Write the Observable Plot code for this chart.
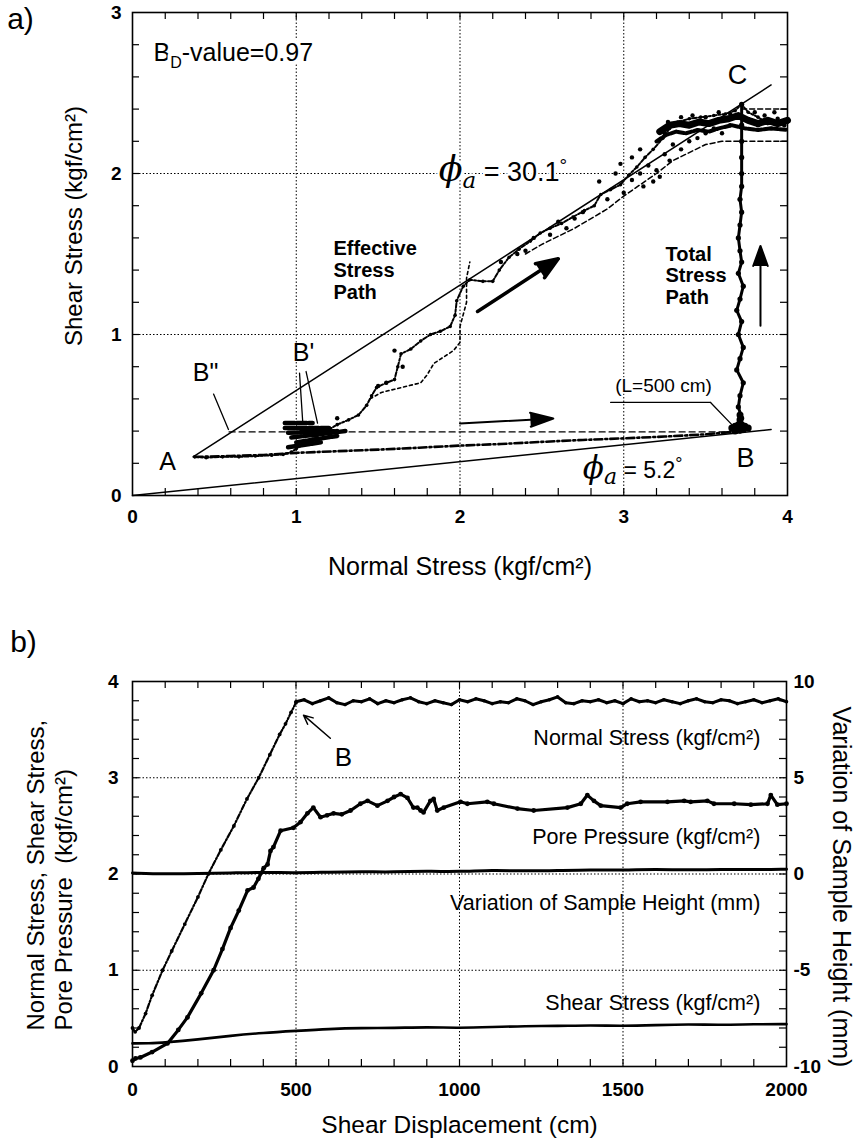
<!DOCTYPE html>
<html><head><meta charset="utf-8">
<script src="https://cdn.jsdelivr.net/npm/d3@7"></script>
<script src="https://cdn.jsdelivr.net/npm/@observablehq/plot@0.6"></script>
<style>
body{margin:0;background:#fff;}
#wrap{position:relative;width:856px;height:1139px;background:#fff;}
#wrap svg{position:absolute;left:0;overflow:visible;}
</style></head><body><div id="wrap"></div>
<script>
// ---------------- Panel a data (kgf/cm2) ----------------
const aXTicks = [0, 1, 2, 3, 4];
const aYTicks = [0, 1, 2, 3];
const aGridX = [1, 2, 3];
const aGridY = [1, 2];
const failureHigh = [[0.37, 0.24], [3.9, 2.55]];   // phi_a = 30.1
const failureLow = [[0, 0], [3.9, 0.41]];          // phi_a = 5.2
const dashedB2 = [[0.59, 0.395], [3.68, 0.395]];
const pathAB = [[0.38,0.24],[0.6,0.245],[0.8,0.252],[1.0,0.265],[1.25,0.275],[1.5,0.285],[1.75,0.297],[2.0,0.31],[2.25,0.32],[2.5,0.333],[2.75,0.345],[3.0,0.355],[3.25,0.366],[3.5,0.38],[3.72,0.40]];
const effPath = [[0.38,0.24],[0.45,0.235],[0.55,0.24],[0.65,0.24],[0.75,0.245],[0.85,0.25],[0.92,0.255],[0.97,0.27],[1.0,0.29],[1.05,0.32],[1.1,0.35],[1.15,0.38],[1.2,0.41],[1.25,0.44],[1.32,0.47],[1.38,0.50],[1.43,0.56],[1.46,0.62],[1.49,0.67],[1.55,0.70],[1.60,0.72],[1.62,0.80],[1.64,0.88],[1.70,0.91],[1.76,0.96],[1.82,1.00],[1.88,1.02],[1.94,1.05],[1.97,1.12],[1.98,1.21],[2.02,1.30],[2.06,1.34],[2.14,1.33],[2.2,1.33],[2.24,1.40],[2.3,1.48],[2.36,1.53],[2.43,1.58],[2.49,1.63],[2.55,1.66],[2.62,1.69],[2.69,1.73],[2.76,1.77],[2.82,1.80],[2.86,1.87],[2.92,1.90],[2.98,1.93],[3.03,1.99],[3.08,2.04],[3.13,2.10],[3.18,2.15],[3.24,2.22],[3.28,2.28],[3.33,2.32],[3.40,2.34],[3.47,2.35],[3.55,2.36],[3.62,2.37],[3.68,2.39],[3.72,2.43],[3.76,2.38],[3.82,2.35],[3.88,2.31],[3.95,2.32],[4.0,2.32]];
const effPath2 = [[1.45,0.60],[1.52,0.64],[1.60,0.66],[1.68,0.68],[1.76,0.70],[1.80,0.75],[1.84,0.82],[1.90,0.86],[1.96,0.90],[2.0,0.95],[2.0,1.05],[2.04,1.20],[2.04,1.35],[2.06,1.45]];
const effPath3 = [[2.4,1.50],[2.5,1.56],[2.6,1.61],[2.7,1.66],[2.8,1.72],[2.9,1.78],[3.0,1.86],[3.1,1.93],[3.2,2.0],[3.3,2.08],[3.4,2.13],[3.5,2.18],[3.6,2.20],[3.72,2.20],[4.0,2.20]];
const effPath4 = [[3.72,2.40],[3.85,2.40],[4.0,2.40]];
const plateau = [[3.22,2.26],[3.28,2.30],[3.34,2.31],[3.40,2.30],[3.46,2.32],[3.52,2.31],[3.58,2.33],[3.64,2.34],[3.70,2.36],[3.76,2.33],[3.82,2.31],[3.88,2.33],[3.94,2.31],[4.0,2.33]];
const plateau2 = [[3.20,2.20],[3.26,2.24],[3.32,2.26],[3.38,2.25],[3.45,2.27],[3.52,2.26],[3.58,2.28],[3.66,2.30],[3.74,2.28],[3.82,2.27],[3.90,2.28],[4.0,2.27]];
const effScatter = [[2.85,1.95],[2.90,1.84],[2.95,2.0],[3.0,1.88],[3.05,1.96],[3.1,2.0],[3.12,1.92],[3.15,2.05],[3.18,1.95],[3.2,2.02],[3.22,1.98],[3.25,2.12],[3.28,2.08],[3.1,2.15],[3.05,2.1],[2.98,2.06],[3.3,2.18],[3.35,2.15],[3.4,2.2],[3.45,2.22],[3.5,2.25],[3.55,2.28],[3.6,2.25],[3.65,2.3],[3.3,2.3],[3.35,2.35],[3.42,2.36],[3.5,2.35],[3.58,2.38],[3.65,2.37],[3.25,2.25],[3.27,2.32],[2.7,1.72],[2.75,1.76],[2.65,1.66],[2.6,1.7],[2.55,1.62],[2.45,1.6],[2.4,1.52],[2.35,1.5],[2.25,1.45],[3.78,2.33],[3.82,2.3],[3.86,2.36],[3.9,2.28],[3.94,2.34],[3.98,2.3],[3.8,2.38],[3.92,2.38],[1.6,0.9],[1.55,0.7],[1.50,0.68],[1.25,0.48],[1.65,0.80]];
const bPrimeCluster = [
  {s:1,x:0.93,y:0.45},{s:1,x:1.10,y:0.45},
  {s:2,x:0.93,y:0.42},{s:2,x:1.20,y:0.42},
  {s:3,x:0.95,y:0.39},{s:3,x:1.25,y:0.40},
  {s:4,x:0.97,y:0.36},{s:4,x:1.30,y:0.40},
  {s:5,x:1.00,y:0.33},{s:5,x:1.25,y:0.37},
  {s:6,x:0.95,y:0.30},{s:6,x:1.15,y:0.33}
];
const totalPath = [[3.71,0.40],[3.72,0.48],[3.70,0.55],[3.71,0.62],[3.73,0.70],[3.69,0.78],[3.71,0.85],[3.73,0.92],[3.70,1.0],[3.72,1.08],[3.69,1.15],[3.71,1.22],[3.73,1.30],[3.70,1.38],[3.72,1.45],[3.71,1.52],[3.70,1.6],[3.71,1.68],[3.72,1.76],[3.71,1.84],[3.72,1.92],[3.72,2.0],[3.72,2.1],[3.72,2.2],[3.72,2.3],[3.72,2.43]];
const bBlob = [[3.66,0.42],[3.68,0.43],[3.70,0.44],[3.72,0.44],[3.74,0.43],[3.76,0.42],[3.70,0.41],[3.73,0.41],[3.68,0.40],[3.71,0.47],[3.71,0.50]];
const arrowsThick = [{x1:2.107,y1:1.143,x2:2.60,y2:1.47}];
const arrowsRight = [{x1:2.0,y1:0.447,x2:2.57,y2:0.478}];
const arrowsUp = [{x1:3.835,y1:1.055,x2:3.835,y2:1.55}];
const arrowsThin = [
  {x1:0.495,y1:0.63,x2:0.586,y2:0.41,bend:8},
  {x1:1.02,y1:0.76,x2:1.04,y2:0.45,bend:0},
  {x1:1.06,y1:0.77,x2:1.13,y2:0.45,bend:0},
  {x1:3.53,y1:0.578,x2:3.66,y2:0.44,bend:-15}
];
const lLine = [[2.92,0.578],[3.53,0.578]];

// ---------------- Panel b data ----------------
const bXTicks = [0, 500, 1000, 1500, 2000];
const bYTicks = [0, 1, 2, 3, 4];
const bRightLabels = ["-10", "-5", "0", "5", "10"];   // sample height (mm)
const bGridX = [500, 1000, 1500];
const bGridY = [1, 2, 3];
const nsRise = [[0,0.40],[8,0.36],[20,0.40],[40,0.55],[60,0.74],[92,1.0],[120,1.2],[160,1.48],[200,1.76],[232,2.0],[270,2.25],[310,2.5],[350,2.78],[386,3.0],[420,3.24],[450,3.45],[468,3.56],[485,3.68],[500,3.78]];
const nsFlatX = d3.range(500, 2001, 25);
const nsFlatY = [3.79,3.81,3.77,3.80,3.83,3.78,3.76,3.80,3.79,3.82,
  3.77,3.80,3.78,3.81,3.83,3.79,3.77,3.80,3.78,3.76,
  3.81,3.79,3.82,3.80,3.77,3.79,3.78,3.82,3.80,3.76,
  3.79,3.81,3.84,3.78,3.77,3.80,3.79,3.81,3.78,3.80,
  3.77,3.82,3.79,3.80,3.78,3.81,3.79,3.77,3.80,3.82,
  3.79,3.78,3.81,3.80,3.77,3.79,3.81,3.78,3.80,3.82,3.79];
const nsFlat = nsFlatX.map((x, i) => [x, nsFlatY[i]]);
const porePressure = [[0,0.06],[9,0.083],[24,0.094],[60,0.15],[107,0.24],[140,0.38],[168,0.51],[210,0.76],[248,1.0],[275,1.22],[300,1.44],[325,1.62],[352,1.83],[370,1.86],[385,1.95],[401,2.06],[413,2.1],[422,2.24],[431,2.28],[453,2.45],[492,2.48],[514,2.54],[535,2.63],[553,2.69],[575,2.59],[595,2.61],[615,2.63],[640,2.62],[667,2.66],[697,2.73],[719,2.76],[749,2.71],[780,2.76],[800,2.80],[820,2.83],[841,2.79],[859,2.69],[871,2.69],[881,2.66],[890,2.64],[911,2.76],[921,2.78],[932,2.66],[952,2.69],[1003,2.75],[1024,2.73],[1085,2.75],[1105,2.73],[1177,2.68],[1227,2.66],[1330,2.69],[1371,2.73],[1391,2.82],[1411,2.76],[1432,2.71],[1493,2.69],[1513,2.73],[1554,2.75],[1636,2.75],[1687,2.76],[1707,2.75],[1758,2.76],[1778,2.73],[1840,2.73],[1891,2.72],[1942,2.73],[1952,2.82],[1972,2.72],[2000,2.73]];
const sampleHeight = [[0,0.05],[100,0.0],[200,0.02],[300,0.05],[400,0.1],[500,0.05],[600,0.1],[700,0.12],[800,0.1],[900,0.15],[1000,0.12],[1100,0.2],[1200,0.15],[1300,0.18],[1400,0.22],[1500,0.2],[1600,0.25],[1700,0.2],[1800,0.25],[1900,0.22],[2000,0.25]]; // mm
const shearStress = [[0,0.24],[50,0.24],[100,0.25],[200,0.28],[300,0.32],[400,0.35],[500,0.37],[600,0.39],[700,0.40],[800,0.40],[900,0.41],[1000,0.40],[1100,0.41],[1200,0.42],[1300,0.42],[1400,0.43],[1500,0.42],[1600,0.43],[1700,0.44],[1800,0.43],[1900,0.44],[2000,0.44]];
const bArrow = [{x1:605,y1:3.41,x2:523,y2:3.65}];

// ---------------- helpers ----------------
const FONT = "'Liberation Sans', Arial, Helvetica, sans-serif";
const SERIF = "'DejaVu Serif', 'Liberation Serif', serif";
const X = d => d[0], Y = d => d[1];
const TL = 7;
function rich(svg, plain, html) {
  d3.select(svg).selectAll("text").each(function() {
    if (this.textContent === plain) this.innerHTML = html;
  });
}
const wrap = document.getElementById("wrap");
const C = {textAnchor: "middle", lineAnchor: "middle"};

// ---------------- Panel a ----------------
{
  const W = 856, H = 600, ML = 132, MR = 69, MT = 12, MB = 105;
  const FW = W - ML - MR, FH = H - MT - MB;
  const minorX = d3.range(0.2, 4, 0.2), minorY = d3.range(0.2, 3, 0.2);
  const svg = Plot.plot({
    width: W, height: H, marginLeft: ML, marginRight: MR, marginTop: MT, marginBottom: MB,
    style: {fontFamily: FONT, fontSize: "18px", color: "black", background: "white", overflow: "visible"},
    x: {domain: [0, 4]}, y: {domain: [0, 3]},
    marks: [
      Plot.ruleX(aGridX, {strokeWidth: 1, strokeDasharray: "1.5,2"}),
      Plot.ruleY(aGridY, {strokeWidth: 1, strokeDasharray: "1.5,2"}),
      Plot.ruleX(minorX, {insetTop: FH - TL, strokeWidth: 1.2}),
      Plot.ruleX(minorX, {insetBottom: FH - TL, strokeWidth: 1.2}),
      Plot.ruleY(minorY, {insetRight: FW - TL, strokeWidth: 1.2}),
      Plot.ruleY(minorY, {insetLeft: FW - TL, strokeWidth: 1.2}),
      Plot.frame({strokeWidth: 1.6}),
      Plot.axisX({ticks: aXTicks, tickSize: 0, tickPadding: 14, fontSize: 19, fontWeight: "bold", tickFormat: d => String(d)}),
      Plot.axisY({ticks: aYTicks, tickSize: 0, tickPadding: 11, fontSize: 19, fontWeight: "bold", tickFormat: d => String(d)}),
      // failure envelopes
      Plot.line(failureHigh, {x: X, y: Y, strokeWidth: 1.5}),
      Plot.line(failureLow, {x: X, y: Y, strokeWidth: 1.5}),
      Plot.line(dashedB2, {x: X, y: Y, strokeWidth: 1.3, strokeDasharray: "6,4"}),
      // A -> B path
      Plot.line(pathAB, {x: X, y: Y, strokeWidth: 2.6, strokeDasharray: "8,3,2,3"}),
      // effective stress path
      Plot.line(effPath, {x: X, y: Y, strokeWidth: 2, strokeDasharray: "4,2,2,2"}),
      Plot.line(effPath2, {x: X, y: Y, strokeWidth: 1.6, strokeDasharray: "3,3"}),
      Plot.line(effPath3, {x: X, y: Y, strokeWidth: 1.5, strokeDasharray: "5,3"}),
      Plot.line(effPath4, {x: X, y: Y, strokeWidth: 1.5, strokeDasharray: "5,3"}),
      Plot.line(plateau, {x: X, y: Y, strokeWidth: 7}),
      Plot.line(plateau2, {x: X, y: Y, strokeWidth: 4, strokeDasharray: "6,2"}),
      Plot.dot(effPath, {x: X, y: Y, r: 1.8, fill: "black"}),
      Plot.dot(effScatter, {x: X, y: Y, r: 2.2, fill: "black"}),
      Plot.line(bPrimeCluster, {x: "x", y: "y", z: "s", strokeWidth: 4.5, strokeDasharray: "10,2"}),
      // total stress path
      Plot.line(totalPath, {x: X, y: Y, strokeWidth: 3}),
      Plot.dot(totalPath, {x: X, y: Y, r: 2.6, fill: "black"}),
      Plot.dot(bBlob, {x: X, y: Y, r: 3.5, fill: "black"}),
      // arrows
      Plot.arrow(arrowsThick, {x1: "x1", y1: "y1", x2: "x2", y2: "y2", stroke: "black", strokeWidth: 3.5, headLength: 10, headAngle: 42, fill: "black"}),
      Plot.arrow(arrowsRight, {x1: "x1", y1: "y1", x2: "x2", y2: "y2", stroke: "black", strokeWidth: 2, headLength: 18, headAngle: 34, fill: "black"}),
      Plot.arrow(arrowsUp, {x1: "x1", y1: "y1", x2: "x2", y2: "y2", stroke: "black", strokeWidth: 2, headLength: 16, headAngle: 40, fill: "black"}),
      Plot.arrow(arrowsThin, {x1: "x1", y1: "y1", x2: "x2", y2: "y2", bend: d => d.bend, strokeWidth: 1.3, headLength: 10, headAngle: 45}),
      Plot.line(lLine, {x: X, y: Y, strokeWidth: 1.3}),
      // labels
      Plot.text(["A"], {x: 0.214, y: 0.205, fontSize: 25}),
      Plot.text(['B"'], {x: 0.446, y: 0.758, fontSize: 25}),
      Plot.text(["B'"], {x: 1.044, y: 0.888, fontSize: 25}),
      Plot.text(["C"], {x: 3.695, y: 2.61, fontSize: 27}),
      Plot.text(["B"], {x: 3.743, y: 0.23, fontSize: 27}),
      Plot.text(["(L=500 cm)"], {x: 3.243, y: 0.683, fontSize: 19, fill: "black", stroke: "white", strokeWidth: 3}),
      Plot.text(["ϕa = 5.2°"], {x: 2.75, y: 0.155, fontSize: 23, textAnchor: "start"}),
      Plot.text(["ϕa = 30.1°"], {x: 1.87, y: 2.006, fontSize: 27, textAnchor: "start", fill: "black", stroke: "white", strokeWidth: 5}),
      Plot.text(["Effective\nStress\nPath"], {x: 1.227, y: 1.40, fontSize: 20, fontWeight: "bold", textAnchor: "start", lineHeight: 1.08}),
      Plot.text(["Total\nStress\nPath"], {x: 3.255, y: 1.366, fontSize: 20, fontWeight: "bold", textAnchor: "start", lineHeight: 1.08}),
      Plot.text(["BD-value=0.97"], {x: 0.128, y: 2.75, fontSize: 25, textAnchor: "start", fill: "black", stroke: "white", strokeWidth: 8}),
      // panel tag & titles
      Plot.text(["a)"], {...C, frameAnchor: "top-left", dx: 20 - ML, dy: 19 - MT, fontSize: 30}),
      Plot.text(["Normal Stress (kgf/cm²)"], {...C, frameAnchor: "bottom", dy: 71, fontSize: 25}),
      Plot.text(["Shear Stress (kgf/cm²)"], {...C, frameAnchor: "left", dx: 74 - ML, dy: -28, rotate: -90, fontSize: 24})
    ]
  });
  svg.style.top = "0px";
  wrap.appendChild(svg);
  rich(svg, "BD-value=0.97", 'B<tspan dy="7" font-size="16">D</tspan><tspan dy="-7">-value=0.97</tspan>');
  rich(svg, "ϕa = 30.1°", `<tspan font-family="${SERIF}" font-style="italic" font-size="35">ϕ</tspan><tspan font-family="${SERIF}" font-style="italic" font-size="23" dy="7">a</tspan><tspan dy="-7"> = 30.1</tspan><tspan dy="-9" font-size="19">°</tspan>`);
  rich(svg, "ϕa = 5.2°", `<tspan font-family="${SERIF}" font-style="italic" font-size="31">ϕ</tspan><tspan font-family="${SERIF}" font-style="italic" font-size="22" dy="6">a</tspan><tspan dy="-6"> = 5.2</tspan><tspan dy="-8" font-size="18">°</tspan>`);
}

// ---------------- Panel b ----------------
{
  const W = 856, H = 539, ML = 132, MR = 70, MT = 81, MB = 73;
  const FW = W - ML - MR, FH = H - MT - MB;
  const minorX = d3.range(100, 2000, 100), minorY = d3.range(0.2, 4, 0.2);
  const svg = Plot.plot({
    width: W, height: H, marginLeft: ML, marginRight: MR, marginTop: MT, marginBottom: MB,
    style: {fontFamily: FONT, fontSize: "18px", color: "black", background: "white", overflow: "visible"},
    x: {domain: [0, 2000]}, y: {domain: [0, 4]},
    marks: [
      Plot.ruleX(bGridX, {strokeWidth: 1, strokeDasharray: "1.5,2"}),
      Plot.ruleY(bGridY, {strokeWidth: 1, strokeDasharray: "1.5,2"}),
      Plot.ruleX(minorX, {insetTop: FH - TL, strokeWidth: 1.2}),
      Plot.ruleX(minorX, {insetBottom: FH - TL, strokeWidth: 1.2}),
      Plot.ruleY(minorY, {insetRight: FW - TL, strokeWidth: 1.2}),
      Plot.ruleY(minorY, {insetLeft: FW - TL, strokeWidth: 1.2}),
      Plot.frame({strokeWidth: 1.6}),
      Plot.axisX({ticks: bXTicks, tickSize: 0, tickPadding: 16, fontSize: 19, fontWeight: "bold", tickFormat: d => String(d)}),
      Plot.axisY({ticks: bYTicks, tickSize: 0, tickPadding: 14, fontSize: 19, fontWeight: "bold", tickFormat: d => String(d)}),
      Plot.axisY({anchor: "right", ticks: bYTicks, tickSize: 0, tickPadding: 7, fontSize: 19, fontWeight: "bold", tickFormat: d => bRightLabels[bYTicks.indexOf(d)]}),
      // series
      Plot.line(nsRise, {x: X, y: Y, strokeWidth: 2.2, strokeDasharray: "5,2,1.5,2"}),
      Plot.dot(nsRise, {x: X, y: Y, r: 1.9, fill: "black"}),
      Plot.line(nsFlat, {x: X, y: Y, strokeWidth: 3}),
      Plot.dot(nsFlat, {x: X, y: Y, r: 1.8, fill: "black"}),
      Plot.line(porePressure, {x: X, y: Y, strokeWidth: 3.2}),
      Plot.dot(porePressure, {x: X, y: Y, r: 2.4, fill: "black"}),
      Plot.line(sampleHeight, {x: X, y: d => 2 + d[1] / 5, strokeWidth: 3, curve: "basis"}),
      Plot.line(shearStress, {x: X, y: Y, strokeWidth: 2.6, curve: "basis"}),
      Plot.arrow(bArrow, {x1: "x1", y1: "y1", x2: "x2", y2: "y2", strokeWidth: 1.5, headLength: 10, headAngle: 50}),
      // labels
      Plot.text(["B"], {x: 645, y: 3.21, fontSize: 26}),
      Plot.text(["Normal Stress (kgf/cm²)"], {x: 1920, y: 3.41, fontSize: 21.5, textAnchor: "end"}),
      Plot.text(["Pore Pressure (kgf/cm²)"], {x: 1920, y: 2.38, fontSize: 21.5, textAnchor: "end"}),
      Plot.text(["Variation of Sample Height (mm)"], {x: 1920, y: 1.70, fontSize: 21.5, textAnchor: "end"}),
      Plot.text(["Shear Stress (kgf/cm²)"], {x: 1920, y: 0.655, fontSize: 21.5, textAnchor: "end"}),
      // panel tag & titles
      Plot.text(["b)"], {...C, frameAnchor: "top-left", dx: 23 - ML, dy: 642 - 600 - MT, fontSize: 30}),
      Plot.text(["Shear Displacement (cm)"], {...C, frameAnchor: "bottom", dy: 59, fontSize: 24.5}),
      Plot.text(["Normal Stress, Shear Stress,"], {frameAnchor: "bottom-left", dx: 36 - ML, dy: -36, rotate: -90, textAnchor: "start", lineAnchor: "middle", fontSize: 24}),
      Plot.text(["Pore Pressure  (kgf/cm²)"], {frameAnchor: "bottom-left", dx: 64 - ML, dy: -36, rotate: -90, textAnchor: "start", lineAnchor: "middle", fontSize: 24}),
      Plot.text(["Variation of Sample Height (mm)"], {...C, frameAnchor: "right", dx: 54, dy: 13, rotate: 90, fontSize: 25})
    ]
  });
  svg.style.top = "600px";
  wrap.appendChild(svg);
}
</script></body></html>
